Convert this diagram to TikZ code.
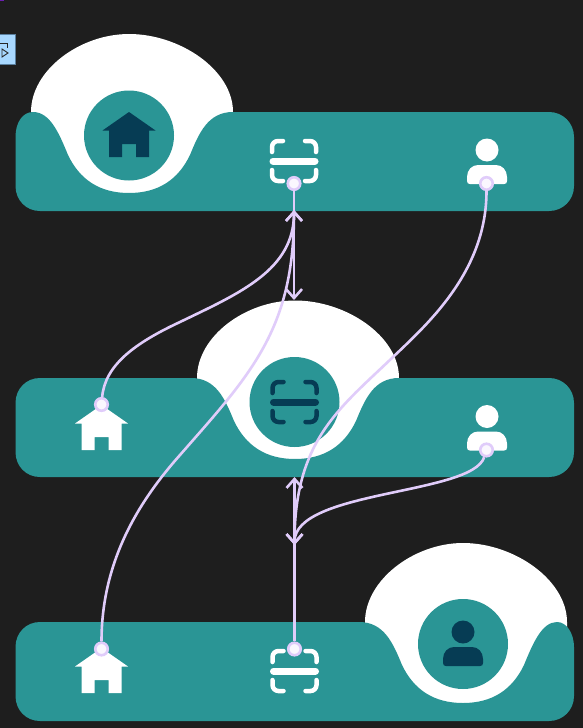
\documentclass[tikz,border=0pt]{standalone}
\usepackage{xcolor}
\usetikzlibrary{arrows.meta}
\definecolor{pagebg}{HTML}{1E1E1E}
\definecolor{tealbar}{HTML}{2A9595}
\definecolor{navyicon}{HTML}{063C54}
\definecolor{lilac}{HTML}{E0CCFA}
\definecolor{handleblue}{HTML}{A8D8FF}
\definecolor{handleedge}{HTML}{5A7F9E}
\definecolor{cornerviolet}{HTML}{6A1FB0}

\begin{document}
\begin{tikzpicture}[
  x=1pt, y=-1pt,
  bar/.style={fill=tealbar},
  dome/.style={fill=white},
  disc/.style={circle, fill=tealbar, minimum size=90pt, inner sep=0pt},
  port/.style={circle, draw=lilac, fill=white!85!lilac, line width=2.6pt, minimum size=12.5pt, inner sep=0pt},
  arr/.style={-{Straight Barb[length=9pt,width=16pt]}, line width=2.6pt, draw=lilac},
  wire/.style={line width=2.6pt, draw=lilac},
  homeicon/.pic={
    \fill[pic actions] (0,0) -- (26.5,18.5) -- (20,18.5) -- (20,45) -- (7,45) -- (7,32) -- (-7,32) -- (-7,45) -- (-20,45) -- (-20,18.5) -- (-26.5,18.5) -- cycle;
  },
  scanicon/.pic={
    \draw[pic actions, line width=4.5pt, line cap=round, rounded corners=6pt] (-11,-20) -- (-22,-20) -- (-22,-9);
    \draw[pic actions, line width=4.5pt, line cap=round, rounded corners=6pt] (11,-20) -- (22,-20) -- (22,-9);
    \draw[pic actions, line width=4.5pt, line cap=round, rounded corners=6pt] (-11,20) -- (-22,20) -- (-22,9);
    \draw[pic actions, line width=4.5pt, line cap=round, rounded corners=6pt] (11,20) -- (22,20) -- (22,9);
    \draw[pic actions, line width=7pt, line cap=round] (-21,0) -- (21,0);
  },
  usericon/.pic={
    \fill[pic actions] (0,0) circle (11.5);
    \fill[pic actions] (-17,34) .. controls (-19,34) and (-20,33) .. (-20,31) -- (-20,27) .. controls (-20,20) and (-15,15) .. (-9,15) -- (9,15) .. controls (15,15) and (20,20) .. (20,27) -- (20,31) .. controls (20,33) and (19,34) .. (17,34) -- cycle;
  }
]
\useasboundingbox (0,0) rectangle (583,728);
\fill[pagebg] (0,0) rectangle (583,728);

% editor handle at the left edge
\fill[cornerviolet] (0,0) rectangle (4,1);
\draw[fill=handleblue, draw=handleedge] (-2,34.5) rectangle (15.5,64);
\draw[black!85, line width=0.8pt] (0,43) -- (7,43) -- (7,48);
\draw[black!85, line width=0.9pt] (2,49) -- (8,53) -- (2,57) -- cycle;

% white domes
\fill[dome] (31,112) .. controls (31,70) and (80,34) .. (129,34) .. controls (180,34) and (233,70) .. (233,112) -- (233,195) -- (31,195) -- cycle;
\fill[dome] (197,378) .. controls (197,336) and (246,300.5) .. (295,300.5) .. controls (346,300.5) and (399,336) .. (399,378) -- (399,461) -- (197,461) -- cycle;
\fill[dome] (365,622) .. controls (365,580) and (414,543) .. (463,543) .. controls (514,543) and (567,580) .. (567,622) -- (567,705) -- (365,705) -- cycle;

% bars with a notch under each dome
\fill[bar] (40,211) .. controls (26,211) and (15.5,200) .. (15.5,186) -- (15.5,137) .. controls (15.5,122) and (23,112) .. (33,112)
  .. controls (50,112) and (59,133) .. (68,155) .. controls (80,180) and (100,193) .. (129,193)
  .. controls (158,193) and (178,180) .. (190,155) .. controls (199,133) and (208,112) .. (233,112)
  -- (549,112) .. controls (563,112) and (574,123) .. (574,137) -- (574,186) .. controls (574,200) and (563,211) .. (549,211) -- cycle;
\fill[bar] (40,477) .. controls (26,477) and (15.5,466) .. (15.5,452) -- (15.5,403) .. controls (15.5,389) and (26,378) .. (40,378)
  -- (191,378) .. controls (216,378) and (225,399) .. (234,421) .. controls (246,446) and (266,459) .. (295,459)
  .. controls (324,459) and (344,446) .. (356,421) .. controls (365,399) and (374,378) .. (399,378)
  -- (549,378) .. controls (563,378) and (574,389) .. (574,403) -- (574,452) .. controls (574,466) and (563,477) .. (549,477) -- cycle;
\fill[bar] (40,721) .. controls (26,721) and (15.5,710) .. (15.5,696) -- (15.5,647) .. controls (15.5,633) and (26,622) .. (40,622)
  -- (359,622) .. controls (384,622) and (393,643) .. (402,665) .. controls (414,690) and (434,703) .. (463,703)
  .. controls (492,703) and (512,690) .. (524,665) .. controls (533,643) and (542,622) .. (557,622)
  .. controls (567,622) and (574,634) .. (574,647) -- (574,696) .. controls (574,710) and (563,721) .. (549,721) -- cycle;

% discs and icons
\node[disc] (homedisc) at (129,135.5) {};
\node[disc] (scandisc) at (294.5,402) {};
\node[disc] (userdisc) at (463,644) {};
\pic[fill=navyicon] at (129,112) {homeicon};
\pic[fill=white] at (101.5,405) {homeicon};
\pic[fill=white] at (101.5,648) {homeicon};
\pic[draw=white] at (294,161) {scanicon};
\pic[draw=navyicon] at (294.5,402) {scanicon};
\pic[draw=white] at (294.5,671) {scanicon};
\pic[fill=white] at (487,150) {usericon};
\pic[fill=white] at (487,416.5) {usericon};
\pic[fill=navyicon] at (463,632) {usericon};

% ports
\node[port] (scantop) at (294,183.5) {};
\node[port] (usertop) at (486.5,183.5) {};
\node[port] (homemid) at (101.5,404.5) {};
\node[port] (usermid) at (486.5,450) {};
\node[port] (homelow) at (101.5,649) {};
\node[port] (scanlow) at (294.5,649) {};
\coordinate (scanup) at (294,210);
\coordinate (scandown) at (294,300);
\coordinate (midup) at (294.5,477);
\coordinate (middown) at (294.5,545);

% connectors
\draw[wire] (scantop) -- (scanup);
\draw[arr] (scanup) -- (scandown);
\draw[arr] (homemid) .. controls (105,365) and (135,343) .. (180,322) .. controls (240,293) and (294,270) .. (scanup);
\draw[arr] (homelow) .. controls (101.5,560) and (140,500) .. (180,455) .. controls (250,375) and (294,330) .. (scanup);
\draw[arr] (usertop) .. controls (486.5,270) and (430,322) .. (393,357) .. controls (340,408) and (294.5,440) .. (middown);
\draw[arr] (usermid) .. controls (472,495) and (294.5,490) .. (middown);
\draw[wire] (scanlow) -- (middown);
\draw[arr] (middown) -- (midup);
\end{tikzpicture}
\end{document}
